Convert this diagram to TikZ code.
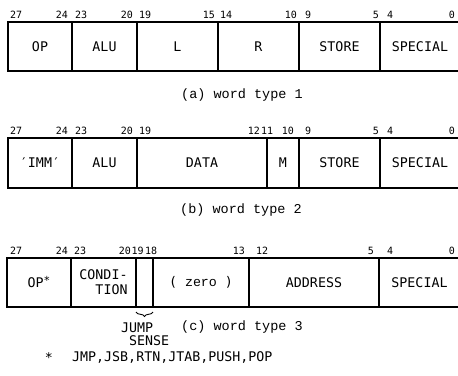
\documentclass[tikz,border=0pt]{standalone}
\usepackage{fontspec}
\newfontfamily\lab{DejaVu Sans Mono}
\newfontfamily\cour{Liberation Mono}
\usetikzlibrary{decorations.pathreplacing}
\begin{document}
\begin{tikzpicture}[x=1pt,y=1pt,
  field/.style={draw,line width=1.1pt,inner sep=0pt,outer sep=0pt,anchor=north west,
    font=\lab\fontsize{13.3}{15}\selectfont,align=center},
  bitl/.style={anchor=base west,inner sep=0pt,font=\lab\fontsize{10}{11}\selectfont},
  bitr/.style={anchor=base east,inner sep=0pt,font=\lab\fontsize{10}{11}\selectfont},
  capt/.style={inner sep=0pt,font=\cour\fontsize{13.5}{15}\selectfont},
  plain/.style={inner sep=0pt,font=\lab\fontsize{13.3}{15}\selectfont}]
\useasboundingbox (0,0) rectangle (458,-375);
% ---------- word type 1
\node[field,minimum width=64,minimum height=49] (a1) at (8,-22) {OP};
\node[field,minimum width=65,minimum height=49] (a2) at (72,-22) {ALU};
\node[field,minimum width=81,minimum height=49] (a3) at (137,-22) {L};
\node[field,minimum width=81,minimum height=49] (a4) at (218,-22) {R};
\node[field,minimum width=81,minimum height=49] (a5) at (299,-22) {STORE};
\node[field,minimum width=80,minimum height=49] (a6) at (380,-22) {SPECIAL};
\node[bitl] (a27) at (10,-18) {27};
\node[bitr] (a24) at (68,-18) {24};
\node[bitl] (a23) at (75,-18) {23};
\node[bitr] (a20) at (133,-18) {20};
\node[bitl] (a19) at (139,-18) {19};
\node[bitr] (a15) at (215,-18) {15};
\node[bitl] (a14) at (220,-18) {14};
\node[bitr] (a10) at (297,-18) {10};
\node[bitl] (a9) at (305,-18) {9};
\node[bitr] (a5b) at (379,-18) {5};
\node[bitl] (a4b) at (387,-18) {4};
\node[bitr] (a0) at (455,-18) {0};
\node[capt] (capa) at (242,-95) {(a) word type 1};
% ---------- word type 2
\node[field,minimum width=64,minimum height=50] (b1) at (8,-138) {′IMM′};
\node[field,minimum width=65,minimum height=50] (b2) at (72,-138) {ALU};
\node[field,minimum width=130,minimum height=50] (b3) at (137,-138) {DATA};
\node[field,minimum width=32,minimum height=50] (b4) at (267,-138) {M};
\node[field,minimum width=81,minimum height=50] (b5) at (299,-138) {STORE};
\node[field,minimum width=80,minimum height=50] (b6) at (380,-138) {SPECIAL};
\node[bitl] (b27) at (10,-134) {27};
\node[bitr] (b24) at (68,-134) {24};
\node[bitl] (b23) at (75,-134) {23};
\node[bitr] (b20) at (133,-134) {20};
\node[bitl] (b19) at (139,-134) {19};
\node[bitr] (b12) at (260,-134) {12};
\node[bitl] (b11) at (261,-134) {11};
\node[bitr] (b10) at (294,-134) {10};
\node[bitl] (b9) at (305,-134) {9};
\node[bitr] (b5b) at (379,-134) {5};
\node[bitl] (b4b) at (387,-134) {4};
\node[bitr] (b0) at (455,-134) {0};
\node[capt] (capb) at (241,-210) {(b) word type 2};
% ---------- word type 3
\node[field,minimum width=64,minimum height=49] (c1) at (7,-258) {OP\raisebox{3pt}{\fontsize{11}{12}\selectfont*}};
\node[field,minimum width=65,minimum height=49,align=right] (c2) at (71,-258) {CONDI-\\TION};
\node[field,minimum width=17,minimum height=49] (c3) at (136,-258) {};
\node[field,minimum width=96,minimum height=49] (c4) at (153,-258) {( {\cour zero} )};
\node[field,minimum width=130,minimum height=49] (c5) at (249,-258) {ADDRESS};
\node[field,minimum width=81,minimum height=49] (c6) at (379,-258) {SPECIAL};
\node[bitl] (c27) at (10,-254) {27};
\node[bitr] (c24) at (68,-254) {24};
\node[bitl] (c23) at (74,-254) {23};
\node[bitr] (c20) at (131,-254) {20};
\node[bitl] (c19) at (131.5,-254) {19};
\node[bitl] (c18) at (145,-254) {18};
\node[bitr] (c13) at (245,-254) {13};
\node[bitl] (c12) at (256,-254) {12};
\node[bitr] (c5b) at (374,-254) {5};
\node[bitl] (c4b) at (387,-254) {4};
\node[bitr] (c0) at (455,-254) {0};
\draw[line width=0.9pt,decorate,decoration={brace,mirror,amplitude=4.5pt}]
  ([yshift=-5pt]c3.south west) -- ([yshift=-5pt]c3.south east);
\node[plain,anchor=west] (jump) at (121,-328) {JUMP};
\node[plain,anchor=west] (sense) at (129,-341) {SENSE};
\node[capt,anchor=west] (capc) at (181,-327) {(c) word type 3};
\node[plain] (star) at (49,-358) {*};
\node[plain,anchor=west] (foot) at (72,-357) {JMP,JSB,RTN,JTAB,PUSH,POP};
\end{tikzpicture}
\end{document}
